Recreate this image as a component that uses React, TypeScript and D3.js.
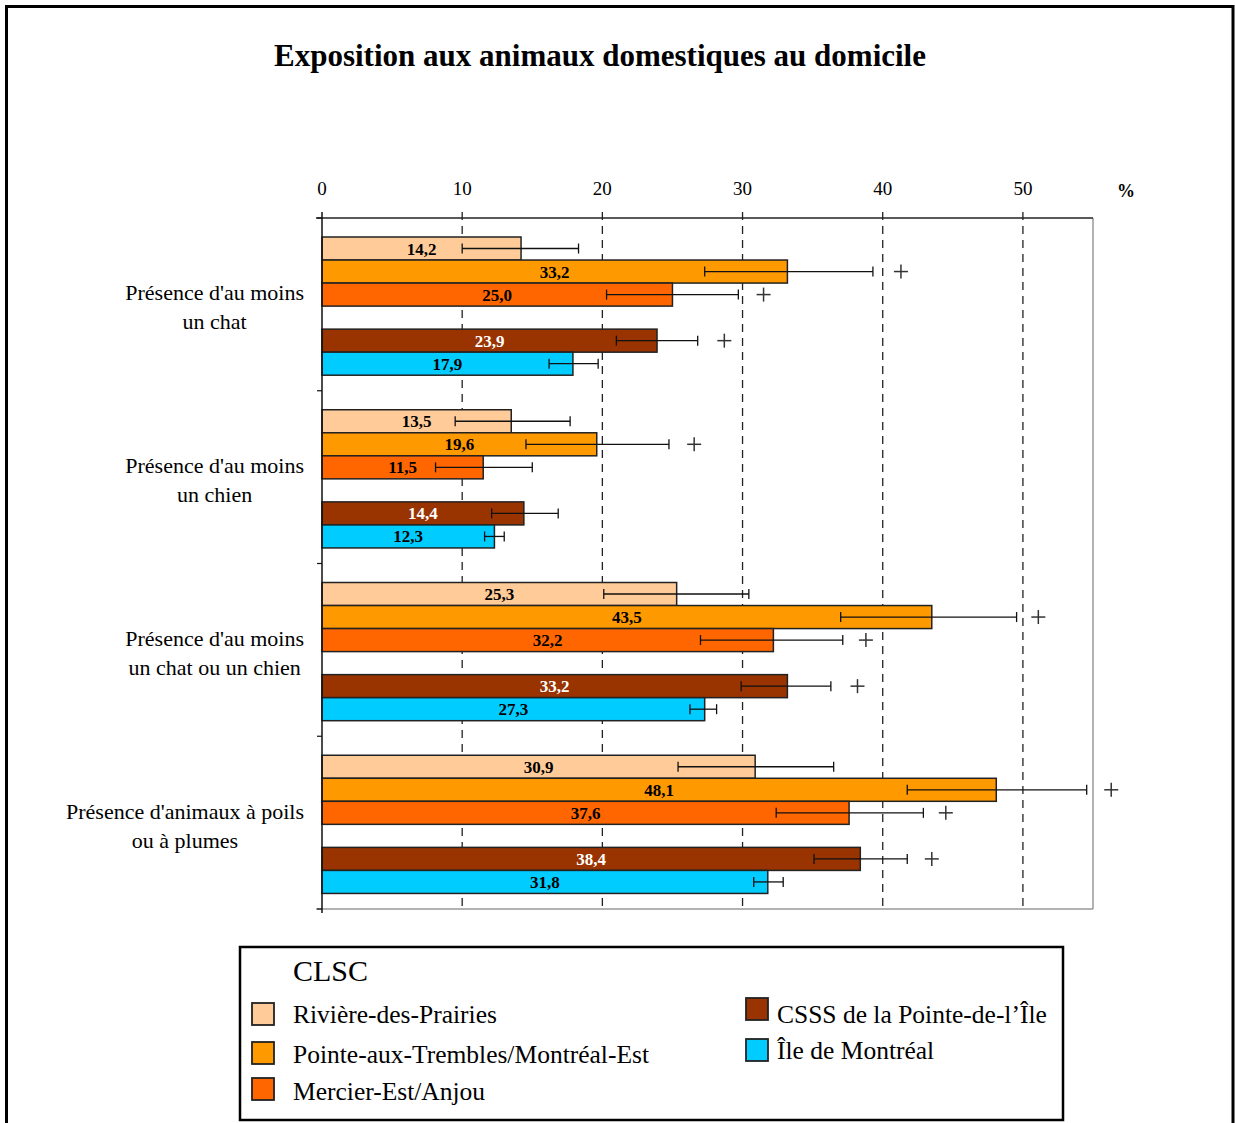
import React, { useEffect, useRef } from "react";
import * as d3 from "d3";

const title = "Exposition aux animaux domestiques au domicile";
const categories = [
  ["Présence d'au moins", "un chat"],
  ["Présence d'au moins", "un chien"],
  ["Présence d'au moins", "un chat ou un chien"],
  ["Présence d'animaux à poils", "ou à plumes"],
];
const seriesNames = [
  "Rivière-des-Prairies",
  "Pointe-aux-Trembles/Montréal-Est",
  "Mercier-Est/Anjou",
  "CSSS de la Pointe-de-l’Île",
  "Île de Montréal",
];
const seriesColors = ["#FFCC99", "#FF9900", "#FF6600", "#993300", "#00CCFF"];
const labelColors = ["#000", "#000", "#000", "#fff", "#000"];
// values[series][category]
const values = [
  [14.2, 13.5, 25.3, 30.9],
  [33.2, 19.6, 43.5, 48.1],
  [25.0, 11.5, 32.2, 37.6],
  [23.9, 14.4, 33.2, 38.4],
  [17.9, 12.3, 27.3, 31.8],
];
const lowCI = [
  [10.0, 9.5, 20.1, 25.4],
  [27.3, 14.55, 37.0, 41.75],
  [20.3, 8.1, 27.0, 32.4],
  [21.0, 12.1, 29.9, 35.1],
  [16.2, 11.6, 26.25, 30.8],
];
const highCI = [
  [18.3, 17.7, 30.45, 36.5],
  [39.3, 24.75, 49.55, 54.55],
  [29.7, 15.0, 37.15, 42.9],
  [26.8, 16.85, 36.3, 41.75],
  [19.7, 13.0, 28.15, 32.9],
];
// "+" significance markers: position value (series, category)
const plusMarks = [
  { s: 1, c: 0, v: 41.3 },
  { s: 2, c: 0, v: 31.5 },
  { s: 3, c: 0, v: 28.7 },
  { s: 1, c: 1, v: 26.55 },
  { s: 1, c: 2, v: 51.1 },
  { s: 2, c: 2, v: 38.8 },
  { s: 3, c: 2, v: 38.2 },
  { s: 1, c: 3, v: 56.3 },
  { s: 2, c: 3, v: 44.5 },
  { s: 3, c: 3, v: 43.5 },
];
const ticks = [0, 10, 20, 30, 40, 50];
const slots = ["s0", "s1", "s2", "gap", "s3", "s4"];
const seriesSlot = ["s0", "s1", "s2", "s3", "s4"];

const SERIF = "'Liberation Serif', 'Times New Roman', serif";

export default function App() {
  const ref = useRef<SVGSVGElement>(null);
  useEffect(() => {
    document.body.style.margin = "0";
    const svg = d3.select(ref.current);
    svg.selectAll("*").remove();

    const left = 322, right = 1093, top = 218, bottom = 909;
    const x = d3.scaleLinear().domain([0, 55]).range([left, right]);
    const y = d3.scaleBand<number>().domain(d3.range(categories.length)).range([top, bottom]);
    const yi = d3.scaleBand<string>().domain(slots).range([0, y.bandwidth()])
      .paddingOuter(0.75).paddingInner(0).align(0.55);

    // outer frame
    svg.append("rect").attr("x", 6.5).attr("y", 6.5).attr("width", 1226.5).attr("height", 1130)
      .attr("fill", "white").attr("stroke", "black").attr("stroke-width", 3);

    // title
    svg.append("text").attr("x", 600).attr("y", 66).attr("text-anchor", "middle")
      .attr("font-family", SERIF).attr("font-weight", "bold").attr("font-size", 31).text(title);

    // plot border right/bottom (gray)
    svg.append("line").attr("x1", right).attr("x2", right).attr("y1", top).attr("y2", bottom)
      .attr("stroke", "#999").attr("stroke-width", 1.5);
    svg.append("line").attr("x1", left - 6).attr("x2", right).attr("y1", bottom).attr("y2", bottom)
      .attr("stroke", "#999").attr("stroke-width", 1.5);

    // gridlines
    ticks.filter(t => t > 0).forEach(t => {
      svg.append("line").attr("x1", x(t)).attr("x2", x(t)).attr("y1", top - 6).attr("y2", bottom)
        .attr("stroke", "#222").attr("stroke-width", 1.3).attr("stroke-dasharray", "8,6");
    });

    // top axis
    svg.append("line").attr("x1", left - 6).attr("x2", right).attr("y1", top).attr("y2", top)
      .attr("stroke", "#222").attr("stroke-width", 1.3);
    ticks.forEach(t => {
      svg.append("text").attr("x", x(t)).attr("y", 195).attr("text-anchor", "middle")
        .attr("font-family", SERIF).attr("font-size", 19).text(String(t));
    });
    svg.append("text").attr("x", 1126).attr("y", 197).attr("text-anchor", "middle")
      .attr("font-family", SERIF).attr("font-weight", "bold").attr("font-size", 18).text("%");

    // bars
    categories.forEach((_, c) => {
      values.forEach((vals, s) => {
        const y0 = (y(c) as number) + (yi(seriesSlot[s]) as number);
        const h = yi.bandwidth();
        svg.append("rect").attr("x", x(0)).attr("y", y0).attr("width", x(vals[c]) - x(0)).attr("height", h)
          .attr("fill", seriesColors[s]).attr("stroke", "#222").attr("stroke-width", 1.5);
        svg.append("text").attr("x", x(vals[c] / 2)).attr("y", y0 + h / 2 + 6).attr("text-anchor", "middle")
          .attr("font-family", SERIF).attr("font-weight", "bold").attr("font-size", 17)
          .attr("fill", labelColors[s]).text(vals[c].toFixed(1).replace(".", ","));
        const cy = y0 + h / 2;
        const lo = x(lowCI[s][c]), hi = x(highCI[s][c]);
        const eb = svg.append("g").attr("stroke", "#111").attr("stroke-width", 1.3);
        eb.append("line").attr("x1", lo).attr("x2", hi).attr("y1", cy).attr("y2", cy);
        eb.append("line").attr("x1", lo).attr("x2", lo).attr("y1", cy - 5).attr("y2", cy + 5);
        eb.append("line").attr("x1", hi).attr("x2", hi).attr("y1", cy - 5).attr("y2", cy + 5);
      });
    });

    plusMarks.forEach(p => {
      const y0 = (y(p.c) as number) + (yi(seriesSlot[p.s]) as number);
      const cy = y0 + yi.bandwidth() / 2;
      const cx = x(p.v);
      const g = svg.append("g").attr("stroke", "#333").attr("stroke-width", 1.5);
      g.append("line").attr("x1", cx - 7).attr("x2", cx + 7).attr("y1", cy).attr("y2", cy);
      g.append("line").attr("x1", cx).attr("x2", cx).attr("y1", cy - 7).attr("y2", cy + 7);
    });

    // left axis
    svg.append("line").attr("x1", left).attr("x2", left).attr("y1", top - 6).attr("y2", bottom + 4)
      .attr("stroke", "#111").attr("stroke-width", 1.5);
    d3.range(categories.length + 1).forEach(i => {
      const yy = top + i * y.step();
      svg.append("line").attr("x1", left - 5).attr("x2", left).attr("y1", yy).attr("y2", yy)
        .attr("stroke", "#111").attr("stroke-width", 1.2);
    });

    // category labels (centered block, right edge at 304)
    categories.forEach((lines, c) => {
      const cy = (y(c) as number) + y.bandwidth() / 2;
      const g = svg.append("g");
      const texts = lines.map((l, i) => g.append("text").attr("font-family", SERIF).attr("font-size", 22)
        .attr("y", cy - 4 + i * 29).attr("text-anchor", "middle").text(l));
      const w = Math.max(...texts.map(t => (t.node() as SVGTextElement).getComputedTextLength()));
      texts.forEach(t => t.attr("x", 304 - w / 2));
    });

    // legend
    svg.append("rect").attr("x", 240).attr("y", 947).attr("width", 823).attr("height", 173)
      .attr("fill", "white").attr("stroke", "black").attr("stroke-width", 2.5);
    svg.append("text").attr("x", 293).attr("y", 981).attr("font-family", SERIF).attr("font-size", 30).text("CLSC");
    const legPos = [
      { sx: 252, sy: 1003, tx: 293, ty: 1023 },
      { sx: 252, sy: 1042, tx: 293, ty: 1063 },
      { sx: 252, sy: 1078, tx: 293, ty: 1100 },
      { sx: 746, sy: 998, tx: 777, ty: 1023 },
      { sx: 746, sy: 1039, tx: 777, ty: 1059 },
    ];
    seriesNames.forEach((n, i) => {
      const p = legPos[i];
      svg.append("rect").attr("x", p.sx).attr("y", p.sy).attr("width", 22).attr("height", 22)
        .attr("fill", seriesColors[i]).attr("stroke", "#222").attr("stroke-width", 1.8);
      svg.append("text").attr("x", p.tx).attr("y", p.ty).attr("font-family", SERIF).attr("font-size", 25.5).text(n);
    });
  }, []);
  return <svg ref={ref} width={1235} height={1123} style={{ position: "absolute", left: 0, top: 0, background: "white" }} />;
}
